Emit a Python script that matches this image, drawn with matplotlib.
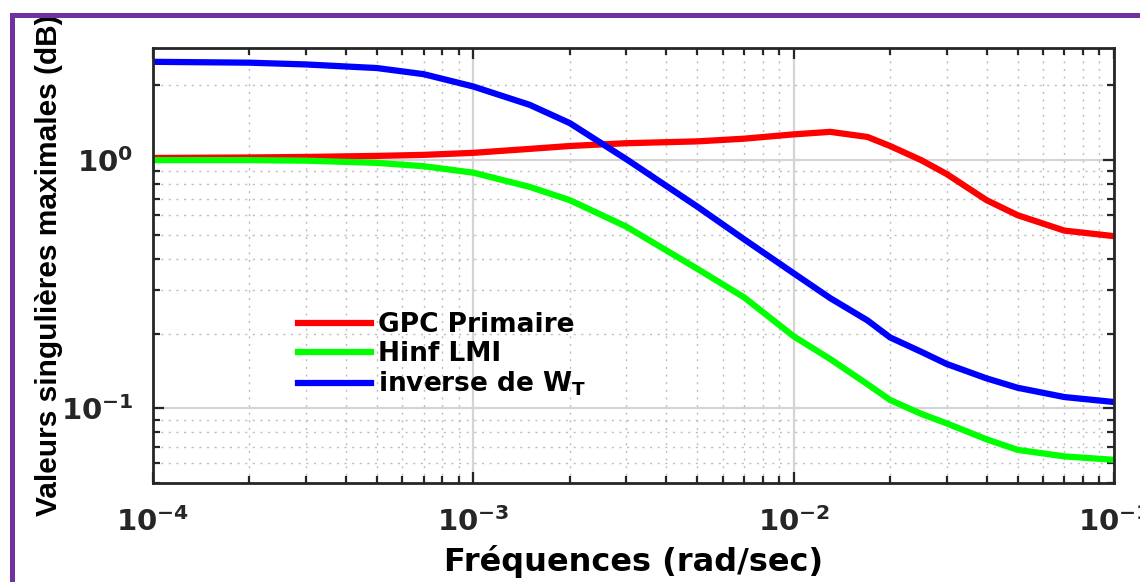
"""
Valeurs singulières maximales : GPC primaire, Hinf LMI et inverse de W_T.
"""
import matplotlib
matplotlib.use("Agg")
import matplotlib.pyplot as plt
from matplotlib.patches import Rectangle
from matplotlib.ticker import LogLocator, NullFormatter

# the reference looks horizontally stretched, so the wide DejaVu bold fits
# the horizontal texts and the narrower Liberation bold the rotated ylabel
plt.rcParams["font.family"] = ["DejaVu Sans"]
plt.rcParams["font.weight"] = "bold"
plt.rcParams["mathtext.fontset"] = "dejavusans"
plt.rcParams["mathtext.default"] = "bf"

# Data (rad/sec vs. singular value)
freq = [1e-4, 2e-4, 3e-4, 5e-4, 7e-4, 1e-3, 1.5e-3, 2e-3, 3e-3, 5e-3,
        7e-3, 1e-2, 1.3e-2, 1.7e-2, 2e-2, 2.5e-2, 3e-2, 4e-2, 5e-2, 7e-2, 1e-1]
gpc_primaire = [1.02, 1.025, 1.03, 1.04, 1.05, 1.07, 1.11, 1.14, 1.17, 1.19,
                1.22, 1.27, 1.30, 1.24, 1.14, 1.0, 0.88, 0.69, 0.60, 0.52, 0.494]
hinf_lmi = [1.0, 1.0, 0.995, 0.975, 0.945, 0.89, 0.78, 0.69, 0.54, 0.365,
            0.28, 0.195, 0.158, 0.125, 0.108, 0.095, 0.087, 0.075, 0.068, 0.064, 0.062]
inverse_wt = [2.49, 2.47, 2.43, 2.35, 2.22, 1.98, 1.67, 1.41, 1.01, 0.65,
              0.48, 0.35, 0.278, 0.226, 0.193, 0.169, 0.151, 0.132, 0.121, 0.111, 0.106]

labels = ["GPC Primaire", "Hinf LMI", r"inverse de W$_T$"]
colors = ["#ff0000", "#00ff00", "#0000ff"]

fig = plt.figure(figsize=(11.4, 5.82), dpi=100)
ax = fig.add_axes([0.1342, 0.1701, 0.8430, 0.7474])

for y, lab, c in zip([gpc_primaire, hinf_lmi, inverse_wt], labels, colors):
    ax.plot(freq, y, color=c, linewidth=4.5, label=lab)

ax.set_xscale("log")
ax.set_yscale("log")
ax.set_xlim(1e-4, 1e-1)
ax.set_ylim(0.05, 2.83)

ax.yaxis.set_major_locator(LogLocator(base=10, numticks=10))
ax.yaxis.set_minor_locator(LogLocator(base=10, subs=range(2, 10), numticks=10))
ax.yaxis.set_minor_formatter(NullFormatter())
ax.xaxis.set_minor_formatter(NullFormatter())

# grid like MATLAB: light solid on decades, dotted on minor
ax.grid(True, which="major", color="#d4d4d4", linewidth=1.6, linestyle="-")
ax.grid(True, which="minor", color="#bdbdbd", linewidth=1.0, linestyle=(0, (1.5, 4)))
ax.set_axisbelow(True)

for s in ax.spines.values():
    s.set_linewidth(2.0)
    s.set_color("#262626")
ax.tick_params(which="both", direction="in", top=True, right=True,
               color="#262626", width=1.6, labelcolor="#262626")
ax.tick_params(which="major", length=8, labelsize=21)
ax.tick_params(axis="x", which="major", pad=17)
ax.tick_params(axis="y", which="major", pad=14)
ax.tick_params(which="minor", length=5)

ax.set_xlabel("Fréquences (rad/sec)", fontsize=23, fontweight="bold", labelpad=6)
ax.set_ylabel("Valeurs singulières maximales (dB)", fontsize=21.5, fontweight="bold",
              family=["Liberation Sans", "DejaVu Sans"])
ax.yaxis.set_label_coords(-0.094, 0.50)

ax.legend(loc="upper left", bbox_to_anchor=(0.151, 0.392), frameon=False,
          handlelength=2.75, handletextpad=0.28, labelspacing=0.1,
          borderpad=0, borderaxespad=0, prop={"weight": "bold", "size": 19})

# purple frame cropped at right and bottom
fig.patches.append(Rectangle((11.7 / 1140, -0.2), 2.0, 1.2 - 14.8 / 582,
                             transform=fig.transFigure, fill=False,
                             edgecolor="#7030a0", linewidth=3.6))

fig.savefig("out.png", dpi=100)
